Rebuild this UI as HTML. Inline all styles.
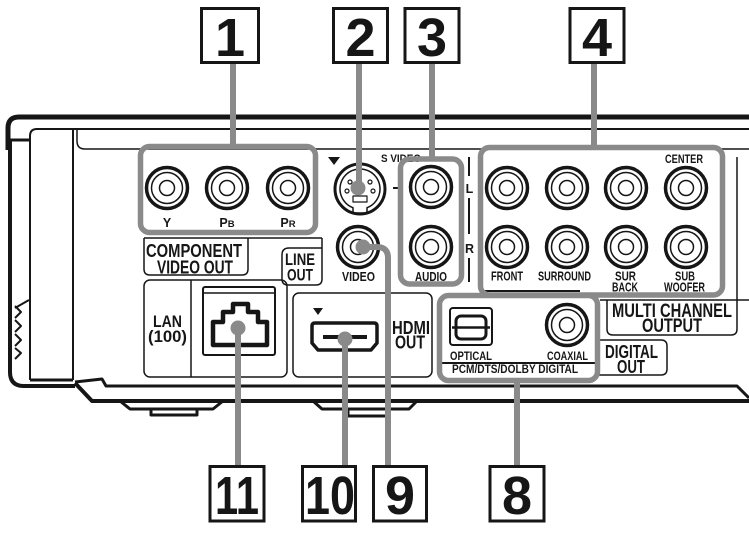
<!DOCTYPE html>
<html><head><meta charset="utf-8"><style>
html,body{margin:0;padding:0;background:#fff;}
svg{display:block;}
text{font-family:"Liberation Sans Narrow","Liberation Sans",sans-serif;font-weight:bold;fill:#161616;}
.d{font-family:"Liberation Sans",sans-serif;font-weight:bold;font-size:54px;}
</style></head><body>
<svg width="749" height="534" viewBox="0 0 749 534" xmlns="http://www.w3.org/2000/svg">
<defs>
<g id="j" fill="none" stroke="#161616"><circle r="20.5" stroke-width="3.5"/><circle r="15.5" stroke-width="1.5"/><circle r="7.5" stroke-width="1.5"/></g>
</defs>

<!-- device body -->
<g fill="none" stroke="#161616" stroke-linejoin="round">
<path d="M8,150 V128 Q8,117 19,117 H749" stroke-width="5"/>
<path d="M8,140 H30" stroke-width="3"/>
<path d="M10,140 V372 Q10,386 24,386 H75" stroke-width="4"/>
<path d="M15,308 L29,300" stroke-width="2"/>
<path d="M15,306 L21,312 L15,318 M15,320 L21,326 L15,332 M15,334 L21,340 L15,346 M15,348 L21,353 L15,359" stroke-width="2"/>
<path d="M30,380 V136 Q30,129 37,129 H749" stroke-width="2"/>
<path d="M73,129 V380" stroke-width="2"/>
<path d="M30,380 H73" stroke-width="3"/>
<path d="M77,129 V141 Q77,149 85,149 H749" stroke-width="1.5"/>
<path d="M75,382 L102,379 L106,386 H737 L749,398" stroke-width="3"/>
<path d="M75,383 L92,401 H749" stroke-width="4"/>
<path d="M120,401 L130,409 H213 L223,401" stroke-width="3"/>
<rect x="151" y="409" width="46" height="6" stroke-width="3"/>
<path d="M313,401 L322,409 H409 L417,401" stroke-width="3"/>
<rect x="348" y="409" width="39" height="7" stroke-width="3"/>

<!-- component / line out boxes -->
<path d="M144,238 H322" stroke-width="1.5"/>
<path d="M144,238 V269 Q144,275 150,275 H242 Q248,275 248,269 V238" stroke-width="1.5"/>
<path d="M322,238 V279 Q322,285 316,285 H288 Q282,285 282,279 V255 Q282,248 289,248 H322" stroke-width="1.5"/>
<!-- LAN -->
<rect x="144" y="280" width="143" height="97" rx="6" stroke-width="1.5"/>
<path d="M191,280 V377" stroke-width="1.5"/>
<rect x="203" y="287" width="72" height="68" rx="2" stroke-width="2"/>
<path d="M204,293 H274" stroke-width="1.5"/>
<path d="M213,345 V322 H223 V312 H233 V304 H248 V312 H258 V322 H267 V345 Z" stroke-width="4.5"/>
<!-- HDMI -->
<rect x="293" y="293" width="139" height="84" rx="6" stroke-width="1.5"/>
<path d="M312,326 Q312,323 315,323 H374 Q377,323 377,326 V343 L371,350 H318 L312,343 Z" stroke-width="3.5"/>
<path d="M323,337 H367" stroke-width="4"/>
<!-- multi channel / digital out -->
<path d="M600,300 H749" stroke-width="1.5"/>
<path d="M737,157 V329 Q737,335 731,335 H613 Q607,335 607,329 V300" stroke-width="1.5"/>
<path d="M598,340 H661 Q667,340 667,346 V369 Q667,375 661,375 H598" stroke-width="1.5"/>
<!-- L/R dashes -->
<path d="M469,157 V176 M469,198 V234 M469,258 V282" stroke-width="2"/>
<path d="M393,188 H398" stroke-width="2"/>
<path d="M485,291 H580" stroke-width="2"/>
<path d="M442,363 H596" stroke-width="2"/>
<!-- S video -->
<circle cx="360" cy="189" r="25" stroke-width="3"/>
<path d="M353,207.7 A20,20 0 1,1 367,207.7 V213 H353 Z" stroke-width="1.5"/>
<circle cx="350" cy="182" r="2" stroke-width="1.2"/>
<circle cx="370" cy="182" r="2" stroke-width="1.2"/>
<circle cx="347" cy="191" r="2" stroke-width="1.2"/>
<circle cx="373" cy="191" r="2" stroke-width="1.2"/>
<rect x="353" y="196" width="14" height="6" stroke-width="1.2"/>
<!-- optical -->
<rect x="450" y="308" width="42" height="37" rx="3" stroke-width="2"/>
<rect x="456" y="316" width="30" height="23" rx="5" stroke-width="3"/>
<path d="M452,327.5 H490" stroke-width="2.5"/>
</g>

<!-- triangles -->
<path d="M328,157 H340 L334,165 Z" fill="#161616"/>
<path d="M313,308 H323 L318,315 Z" fill="#161616"/>

<!-- jacks -->
<use href="#j" x="167" y="188"/>
<use href="#j" x="227" y="188"/>
<use href="#j" x="288" y="188"/>
<use href="#j" x="358" y="247"/>
<use href="#j" x="431" y="187"/>
<use href="#j" x="431" y="247"/>
<use href="#j" x="507" y="188"/>
<use href="#j" x="567" y="188"/>
<use href="#j" x="626" y="188"/>
<use href="#j" x="686" y="188"/>
<use href="#j" x="507" y="247"/>
<use href="#j" x="567" y="247"/>
<use href="#j" x="626" y="247"/>
<use href="#j" x="686" y="247"/>
<use href="#j" x="567" y="325"/>

<!-- labels -->
<text x="167" y="227" font-size="12.5" text-anchor="middle">Y</text>
<text x="227" y="227" font-size="12.5" text-anchor="middle">P<tspan font-size="9.5">B</tspan></text>
<text x="288" y="227" font-size="12.5" text-anchor="middle">P<tspan font-size="9.5">R</tspan></text>
<text x="146" y="257" font-size="18" textLength="96" lengthAdjust="spacingAndGlyphs">COMPONENT</text>
<text x="157" y="273.5" font-size="18" textLength="76" lengthAdjust="spacingAndGlyphs">VIDEO OUT</text>
<text x="285" y="265" font-size="17" textLength="30" lengthAdjust="spacingAndGlyphs">LINE</text>
<text x="287" y="280.5" font-size="17" textLength="26" lengthAdjust="spacingAndGlyphs">OUT</text>
<text x="381" y="162" font-size="11" textLength="40" lengthAdjust="spacingAndGlyphs">S VIDEO</text>
<text x="342" y="281" font-size="12.5" textLength="33" lengthAdjust="spacingAndGlyphs">VIDEO</text>
<text x="415" y="281" font-size="12.5" textLength="32" lengthAdjust="spacingAndGlyphs">AUDIO</text>
<text x="469.5" y="193" font-size="12.5" text-anchor="middle">L</text>
<text x="469.5" y="253" font-size="12.5" text-anchor="middle">R</text>
<text x="665" y="163" font-size="11.5" textLength="38" lengthAdjust="spacingAndGlyphs">CENTER</text>
<text x="491" y="280.5" font-size="12.5" textLength="32" lengthAdjust="spacingAndGlyphs">FRONT</text>
<text x="538" y="280.5" font-size="12.5" textLength="53" lengthAdjust="spacingAndGlyphs">SURROUND</text>
<text x="615" y="280.5" font-size="12.5" textLength="21" lengthAdjust="spacingAndGlyphs">SUR</text>
<text x="612" y="291.5" font-size="12.5" textLength="26" lengthAdjust="spacingAndGlyphs">BACK</text>
<text x="675" y="280.5" font-size="12.5" textLength="20" lengthAdjust="spacingAndGlyphs">SUB</text>
<text x="664" y="291.5" font-size="12.5" textLength="41" lengthAdjust="spacingAndGlyphs">WOOFER</text>
<text x="612" y="317" font-size="19" textLength="120" lengthAdjust="spacingAndGlyphs">MULTI CHANNEL</text>
<text x="642" y="332" font-size="19" textLength="60" lengthAdjust="spacingAndGlyphs">OUTPUT</text>
<text x="605" y="358" font-size="18" textLength="53" lengthAdjust="spacingAndGlyphs">DIGITAL</text>
<text x="617" y="373" font-size="18" textLength="28" lengthAdjust="spacingAndGlyphs">OUT</text>
<text x="392" y="334" font-size="18" textLength="38" lengthAdjust="spacingAndGlyphs">HDMI</text>
<text x="395" y="348.5" font-size="18" textLength="30" lengthAdjust="spacingAndGlyphs">OUT</text>
<text x="153" y="327" font-size="17" textLength="29" lengthAdjust="spacingAndGlyphs">LAN</text>
<text x="148" y="342" font-size="17" textLength="39" lengthAdjust="spacingAndGlyphs">(100)</text>
<text x="450" y="360" font-size="11.5" textLength="42" lengthAdjust="spacingAndGlyphs">OPTICAL</text>
<text x="547" y="360" font-size="11.5" textLength="41" lengthAdjust="spacingAndGlyphs">COAXIAL</text>
<text x="452" y="373" font-size="11.5" textLength="126" lengthAdjust="spacingAndGlyphs">PCM/DTS/DOLBY DIGITAL</text>

<!-- gray callout groups and leaders -->
<g fill="none" stroke="#8a8a8a" stroke-width="5.5" stroke-linejoin="round">
<rect x="140.5" y="146.5" width="175" height="86" rx="9"/>
<rect x="400.5" y="159" width="61" height="125" rx="9"/>
<rect x="480.5" y="147.5" width="242" height="147.5" rx="9"/>
<rect x="439.5" y="295.5" width="158" height="85" rx="9"/>
</g>
<g fill="none" stroke="#8a8a8a" stroke-width="6">
<path d="M233,62 V146"/>
<path d="M359,62 V188"/>
<path d="M432,62 V157"/>
<path d="M594,62 V147"/>
<path d="M517,383 V466"/>
<path d="M363,247 H377 Q388,247 388,258 V466"/>
<path d="M345,339 V466"/>
<path d="M238,328 V466"/>
</g>
<g fill="#8a8a8a">
<circle cx="358" cy="188" r="7.5"/>
<circle cx="363" cy="247" r="7.5"/>
<circle cx="345" cy="339" r="7.5"/>
<circle cx="238" cy="328" r="7.5"/>
</g>

<!-- number boxes -->
<g fill="#fff" stroke="#161616" stroke-width="3">
<rect x="201.5" y="8.5" width="57" height="54"/>
<rect x="333.5" y="8.5" width="54" height="54"/>
<rect x="405" y="8.5" width="54" height="54"/>
<rect x="570" y="8.5" width="54" height="54"/>
<rect x="210" y="466.5" width="54" height="54.5"/>
<rect x="302.5" y="466.5" width="53" height="54.5"/>
<rect x="373.5" y="466.5" width="53" height="54.5"/>
<rect x="490" y="466.5" width="54" height="54.5"/>
</g>
<text class="d" x="230" y="56" text-anchor="middle">1</text>
<text class="d" x="360.5" y="56" text-anchor="middle">2</text>
<text class="d" x="432" y="56" text-anchor="middle">3</text>
<text class="d" x="597" y="56" text-anchor="middle">4</text>
<text class="d" x="215" y="514" textLength="44" lengthAdjust="spacingAndGlyphs">11</text>
<text class="d" x="305" y="514" textLength="50" lengthAdjust="spacingAndGlyphs">10</text>
<text class="d" x="400" y="514" text-anchor="middle">9</text>
<text class="d" x="517" y="514" text-anchor="middle">8</text>
</svg>
</body></html>
